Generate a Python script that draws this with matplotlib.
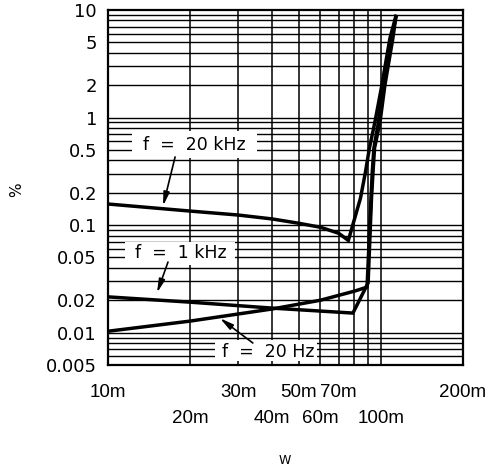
import matplotlib.pyplot as plt
import numpy as np

# Kurven (Leistung in W, Klirrfaktor in %)
power_20khz = [0.010, 0.020, 0.030, 0.040, 0.050, 0.060, 0.070, 0.076, 0.0842, 0.0878, 0.0908,
               0.0951, 0.1009, 0.1035, 0.108, 0.1135]
thd_20khz = [0.157, 0.135, 0.124, 0.114, 0.104, 0.0955, 0.084, 0.072, 0.178, 0.311, 0.52,
             0.908, 2.01, 2.95, 5.49, 8.7]

power_1khz = [0.010, 0.020, 0.040, 0.079, 0.0898, 0.0924, 0.0936, 0.0948, 0.0993, 0.1035,
              0.1062, 0.1107, 0.1136]
thd_1khz = [0.0215, 0.0192, 0.0169, 0.0152, 0.029, 0.178, 0.311, 0.52, 0.908, 2.01,
            2.95, 5.49, 8.7]

power_20hz = [0.010, 0.020, 0.030, 0.040, 0.060, 0.080, 0.089, 0.092, 0.093, 0.0943, 0.098,
              0.102, 0.105, 0.1095, 0.1135]
thd_20hz = [0.0103, 0.0128, 0.0149, 0.0166, 0.0200, 0.0243, 0.0265, 0.178, 0.311, 0.52, 0.908,
            2.01, 2.95, 5.49, 8.7]

y_ticks = [0.005, 0.01, 0.02, 0.05, 0.1, 0.2, 0.5, 1, 2, 5, 10]
y_labels = ["0.005", "0.01", "0.02", "0.05", "0.1", "0.2", "0.5", "1", "2", "5", "10"]
x_ticks_top = [0.01, 0.03, 0.05, 0.07, 0.2]
x_labels_top = ["10m", "30m", "50m", "70m", "200m"]
x_ticks_bottom = [0.02, 0.04, 0.06, 0.1]
x_labels_bottom = ["20m", "40m", "60m", "100m"]
x_grid = [0.02, 0.03, 0.04, 0.05, 0.06, 0.07, 0.08, 0.09, 0.1]

fig = plt.figure(figsize=(4.94, 4.67), dpi=100)
ax = fig.add_axes([108 / 494, 102 / 467, 355 / 494, 355 / 467])
ax.set_xscale("log")
ax.set_yscale("log")
ax.set_xlim(0.01, 0.2)
ax.set_ylim(0.005, 10)

# Gitter
y_grid = [m * 10.0 ** e for e in range(-3, 2) for m in range(1, 10)]
y_grid = [v for v in y_grid if 0.005 < v < 10]
for v in y_grid:
    ax.axhline(v, color="black", lw=1.0, zorder=1)
for v in x_grid:
    ax.axvline(v, color="black", lw=1.1, zorder=1)

for s in ax.spines.values():
    s.set_linewidth(1.6)
    s.set_zorder(6)

ax.set_yticks(y_ticks)
ax.set_yticklabels(y_labels)
ax.set_xticks(x_ticks_top)
ax.set_xticklabels(x_labels_top, family="Liberation Sans")
ax.set_xticks(x_ticks_bottom, minor=True)
ax.set_xticklabels(x_labels_bottom, minor=True, family="Liberation Sans")
ax.yaxis.set_minor_locator(plt.NullLocator())
ax.tick_params(axis="y", which="both", length=0, pad=8, labelsize=13)
ax.tick_params(axis="x", which="major", length=0, pad=14, labelsize=13.5)
ax.tick_params(axis="x", which="minor", length=0, pad=32.5, labelsize=13.5)

lw = 2.5
for px, py in [(power_20khz, thd_20khz), (power_1khz, thd_1khz), (power_20hz, thd_20hz)]:
    ax.plot(px, py, color="black", lw=lw, solid_joinstyle="miter", zorder=5)

# Beschriftungskaesten
boxes = [
    ((0.068, 0.583), 0.352, 0.076, (0.099, 0.620), "f  =  20 kHz"),
    ((0.048, 0.282), 0.310, 0.064, (0.076, 0.315), "f  =  1 kHz"),
    ((0.301, 0.010), 0.288, 0.060, (0.321, 0.036), "f  =  20 Hz"),
]
for (bx, by), bw, bh, (tx, ty), label in boxes:
    ax.add_patch(plt.Rectangle((bx, by), bw, bh, transform=ax.transAxes,
                               facecolor="white", edgecolor="none", zorder=3))
    ax.text(tx, ty, label, transform=ax.transAxes, fontsize=12.5,
            ha="left", va="center", zorder=4)

arrows = [
    ((0.189, 0.586), (0.155, 0.448)),
    ((0.169, 0.290), (0.138, 0.203)),
    ((0.408, 0.062), (0.315, 0.132)),
]
for start, tip in arrows:
    ax.annotate("", xy=tip, xytext=start, xycoords="axes fraction",
                textcoords="axes fraction", zorder=4,
                arrowprops=dict(arrowstyle="-|>,head_length=0.8,head_width=0.18",
                                color="black", lw=1.2, shrinkA=0, shrinkB=0))

fig.text(17 / 494, 1 - 190 / 467, "%", rotation=90, fontsize=11, ha="center", va="center")
fig.text(285 / 494, 1 - 460 / 467, "W", fontsize=9, ha="center", va="center")

fig.savefig("out.png", dpi=100)
